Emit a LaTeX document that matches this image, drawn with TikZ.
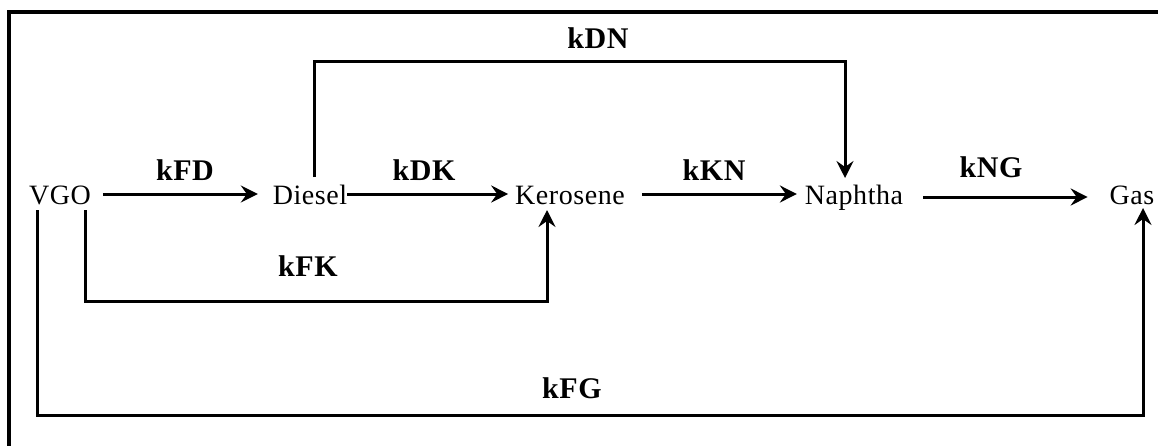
\documentclass[tikz,border=0pt]{standalone}
\usepackage{fontspec}
\setmainfont{Liberation Serif}
\newfontfamily\nodefont[LetterSpace=2]{Liberation Serif}
\newfontfamily\labfont[LetterSpace=2]{Liberation Serif}
\usetikzlibrary{arrows.meta,calc}
\begin{document}
\begin{tikzpicture}[x=1pt,y=-1pt,
  prod/.style={anchor=base,inner sep=0pt,outer sep=0pt,text height=20pt,text depth=0pt,
    font=\nodefont\fontsize{28}{32}\selectfont},
  lab/.style={anchor=base,inner sep=0pt,font=\labfont\bfseries\fontsize{30}{34}\selectfont},
  arr/.style={line width=3pt,-{Stealth[length=17pt,width=17pt,inset=6pt]}},
  frame/.style={line width=3.2pt}]
\useasboundingbox (0,0) rectangle (1158,445);
\fill[white] (0,0) rectangle (1158,445);
\draw[frame] (9,460) -- (9,12) -- (1170,12);

\node[prod] (vgo) at (60,204) {VGO};
\node[prod] (diesel) at (310,204) {Diesel};
\node[prod] (kerosene) at (570,204) {Kerosene};
\node[prod] (naphtha) at (854,204) {Naphtha};
\node[prod] (gas) at (1132,204) {Gas};

\coordinate (dnY) at (0,61);
\coordinate (fkY) at (0,301);
\coordinate (fgY) at (0,415);

\draw[arr] ([xshift=12pt]vgo.east) -- ([xshift=-15pt]diesel.west);
\draw[arr] (diesel.east) -- ([xshift=-7pt]kerosene.west);
\draw[arr] ([xshift=17pt]kerosene.east) -- ([xshift=-8pt]naphtha.west);
\draw[arr] ([xshift=20pt,yshift=-3pt]naphtha.east) -- ([xshift=-22pt,yshift=-3pt]gas.west);

\draw[arr] ([xshift=4pt,yshift=7pt]diesel.north) coordinate (d0) -- (d0 |- dnY) -| ([xshift=-9pt,yshift=6pt]naphtha.north);
\draw[arr] ([xshift=25pt,yshift=-6pt]vgo.south) coordinate (f0) -- (f0 |- fkY) -| ([xshift=-23pt,yshift=-6pt]kerosene.south);
\draw[arr] ([xshift=-23pt,yshift=-6pt]vgo.south) coordinate (g0) -- (g0 |- fgY) -| ([xshift=11pt,yshift=-4pt]gas.south);

\node[lab] (kfd) at (185,180) {kFD};
\node[lab] (kdk) at (424,180) {kDK};
\node[lab] (kkn) at (714,180) {kKN};
\node[lab] (kng) at (991,177) {kNG};
\node[lab] (kdn) at (598,48) {kDN};
\node[lab] (kfk) at (308,276) {kFK};
\node[lab] (kfg) at (572,398) {kFG};
\end{tikzpicture}
\end{document}
